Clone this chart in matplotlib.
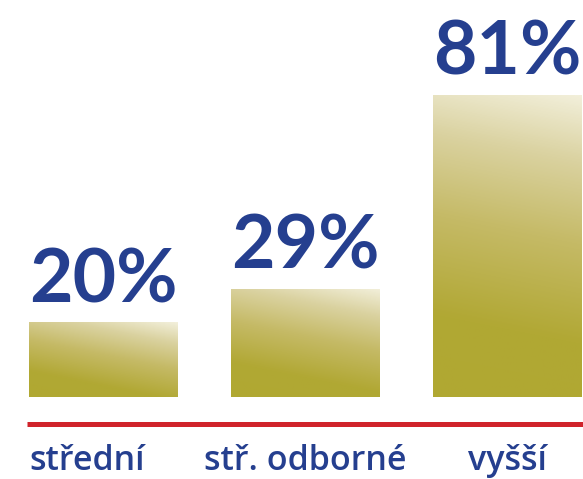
import numpy as np
import matplotlib
matplotlib.use("Agg")
import matplotlib.pyplot as plt
from matplotlib.colors import LinearSegmentedColormap

# ── Data ──────────────────────────────────────────────────────────────────────
categories = ["střední", "stř. odborné", "vyšší"]
values     = [20, 29, 81]
labels     = ["20%", "29%", "81%"]

BLUE = "#253f8f"
RED  = "#d0232b"
gold = LinearSegmentedColormap.from_list(
    "gold", [(0.0, "#b0a832"), (0.25, "#b1a834"), (0.55, "#c5ba66"),
             (0.8, "#dad2a0"), (1.0, "#f2efda")])

fig = plt.figure(figsize=(5.83, 4.79), dpi=100)
ax = fig.add_axes([0, 0, 1, 1])
ax.set_xlim(-0.512, 2.374)
ax.set_ylim(-22.0, 106.5)
ax.axis("off")

x = np.arange(len(values))
bars = ax.bar(x, values, width=0.733, color="none", edgecolor="none")

# gradient fill, slightly tilted so the top-right corner is lightest
fig.canvas.draw()
for b in bars:
    (x0, y0), (x1, y1) = ax.transData.transform([(b.get_x(), 0),
                                                 (b.get_x() + b.get_width(), b.get_height())])
    w, h = int(x1 - x0), int(y1 - y0)
    xx, yy = np.meshgrid(np.arange(w), np.arange(h))
    t = yy + 0.2 * xx
    t = (t - t.min()) / (t.max() - t.min())
    im = ax.imshow(t, cmap=gold, origin="lower", aspect="auto", interpolation="bilinear",
                   extent=(b.get_x(), b.get_x() + b.get_width(), 0, b.get_height()),
                   vmin=0, vmax=1, zorder=1)
    im.set_clip_path(b)

# percentage labels
for xi, v, lab in zip(x, values, labels):
    ax.text(xi, v + 5.4, lab, ha="center", va="baseline", color=BLUE,
            fontsize=54, fontweight="bold", family="Lato")

# red baseline
ax.plot([-0.379, 2.374], [-7.24, -7.24], color=RED, lw=3.6, solid_capstyle="butt")

# category labels
for i, cat in enumerate(categories):
    if i == 0:
        ax.text(bars[0].get_x(), -19.6, cat, ha="left", va="baseline", color=BLUE,
                fontsize=24.5, fontweight="semibold", family="Open Sans")
    else:
        ax.text(x[i], -19.6, cat, ha="center", va="baseline", color=BLUE,
                fontsize=24.5, fontweight="semibold", family="Open Sans")

fig.savefig("out.png", dpi=100)
